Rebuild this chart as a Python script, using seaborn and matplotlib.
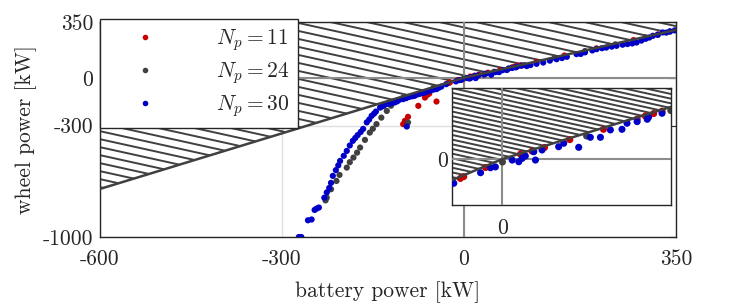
import numpy as np
import pandas as pd
import matplotlib
matplotlib.use('Agg')
import matplotlib.pyplot as plt
from matplotlib.patches import Polygon
import seaborn as sns

# --- data ---
# feasibility limit (wheel power vs battery power)
bound_x = [-600, 0, 350]
bound_y = [-698, 0, 301]

red_x = [-100, -97, -92, -75, -64, -60, -57, -45, -23, -25, -10, 10.7, 17.6, 25, 40, 60,
         80, 84.9, 89.8, 94.8, 120, 166, 219, 280, 320]
red_y = [-291, -270, -245, -176, -124, -107, -99, -149, -29, -32, -14, 8, 13, 19, 32, 49,
         66, 71, 75, 79, 100, 140, 185, 237, 272]

gray_x = [-228, -226, -219, -210, -205, -193, -188, -182, -176, -171, -163, -155, -150,
          -144, -136, -127, -120, -92, -100, -50, 0, 50, 100, 150, 200, 250, 300, 340]
gray_y = [-770, -753, -700, -648, -610, -564, -530, -501, -470, -438, -390, -344, -320,
          -291, -250, -208, -175, -281, -125, -62, -5, 38, 80, 125, 168, 210, 254, 290]

blue_x = [-272, -268, -257, -251, -246, -243, -239, -230, -226, -222, -219, -216, -211,
          -207, -204, -198, -193, -188, -183, -179, -175, -170, -166, -160, -156, -152,
          -148, -145, -138, -135, -132, -127, -94,
          -124, -120, -114, -110, -107, -100, -95, -90, -85, -81, -76, -72, -68, -64, -60,
          -55, -50, -45, -41, -37,
          -28.9, -13, -7.1, -4.2, 5.8, 9.7, 11.7, 13.6, 19.6, 18.6, 23.5, 33.4, 36.4,
          45.3, 52.2, 58.2, 64.1, 71, 74, 80, 86, 86.8, 94.8,
          104, 110, 120, 131, 142, 153, 162, 170, 186, 193, 200, 212, 219, 228, 235, 244,
          252, 262, 270, 278, 285, 293, 300, 306, 312, 320, 328, 334, 340, 348]
blue_y = [-1000, -1000, -895, -890, -830, -822, -815, -753, -720, -692, -660, -616, -580,
          -550, -522, -490, -459, -425, -396, -378, -360, -340, -321, -280, -262, -239,
          -225, -212, -187, -180, -175, -164, -306,
          -162, -160, -155, -148, -140, -134, -128, -120, -116, -113, -104, -100, -95, -92, -86,
          -80, -74, -71, -62, -55,
          -40, -22.6, -14.4, -13, -1.7, -4.5, 1.1, 5, -1.7, 12, 14.9, 20.3, 26,
          19.3, 35.8, 35.8, 48, 49, 59, 61.7, 65.6, 69, 75.5,
          74, 80, 88, 96, 108, 117, 124, 132, 149, 150, 160, 172, 180, 186, 190, 196,
          201, 208, 212, 216, 222, 234, 245, 253, 264, 270, 285, 284, 292, 298]

labels = [r'$N_p = 11$', r'$N_p = 24$', r'$N_p = 30$']
colors = ['#c80000', '#404040', '#0000c8']

xticks = [-600, -300, 0, 350]
yticks = [-1000, -300, 0, 350]

df = pd.DataFrame({
    'batt': red_x + gray_x + blue_x,
    'wheel': red_y + gray_y + blue_y,
    'series': [labels[0]] * len(red_x) + [labels[1]] * len(gray_x) + [labels[2]] * len(blue_x),
})

sns.set_style('white')
plt.rcParams['font.family'] = 'serif'
plt.rcParams['font.serif'] = ['cmr10', 'DejaVu Serif']
plt.rcParams['mathtext.fontset'] = 'cm'
plt.rcParams['axes.formatter.use_mathtext'] = True

dark = '#404040'
fig = plt.figure(figsize=(7.47, 3.07), dpi=100)
ax = fig.add_axes([0.1339, 0.228, 0.771, 0.700])
ax_in = fig.add_axes([0.605, 0.332, 0.293, 0.381])


def hatch_region(a, ylim, spacing, slope):
    # infeasible region above the limit line, hatched with clipped lines
    poly = Polygon(list(zip(bound_x, bound_y)) + [(bound_x[-1], ylim[1] + 50), (bound_x[0], ylim[1] + 50)],
                   closed=True, facecolor='none', edgecolor='none', transform=a.transData)
    a.add_patch(poly)
    for c in np.arange(-2, 3, spacing):
        ln, = a.plot([0, 1], [c, c + slope], transform=a.transAxes, color=dark, lw=1.4, zorder=2)
        ln.set_clip_path(poly)


def draw(a, xlim, ylim, spacing, slope, size):
    a.axhline(0, color='#8c8c8c', lw=1.5, zorder=3)
    a.axvline(0, color='#8c8c8c', lw=1.5, zorder=3)
    hatch_region(a, ylim, spacing, slope)
    sns.scatterplot(data=df, x='batt', y='wheel', hue='series', hue_order=labels,
                    palette=colors, s=size, linewidth=0, ax=a, zorder=4, legend=(a is ax))
    sns.lineplot(x=bound_x, y=bound_y, color=dark, lw=1.8, ax=a, zorder=5)
    a.set_xlim(xlim)
    a.set_ylim(ylim)
    for sp in a.spines.values():
        sp.set_color('#262626')
        sp.set_linewidth(1.0)


draw(ax, (-600, 350), (-1000, 350), 0.0372, -0.59, 20)
ax.grid(True, color='#e0e0e0', lw=1)
ax.set_axisbelow(True)
ax.set_xticks(xticks, [str(t) for t in xticks])
ax.set_yticks(yticks, [str(t) for t in yticks])
ax.tick_params(direction='in', length=5, width=0.8, top=True, right=True,
               labelsize=15.5, colors='#262626')
ax.tick_params(axis='x', pad=9)
ax.tick_params(axis='y', pad=5)
ax.set_xlabel('battery power [kW]', fontsize=15.5, labelpad=9)
ax.set_ylabel('wheel power [kW]', fontsize=15.5, labelpad=4)

handles, lbls = ax.get_legend_handles_labels()
leg = ax.legend(handles, lbls, loc='upper left', bbox_to_anchor=(0, 1.015), borderaxespad=0,
                fontsize=15.5, frameon=True, fancybox=False, edgecolor='#262626',
                facecolor='white', framealpha=1,
                handlelength=3.4, handletextpad=1.6, labelspacing=0.33, borderpad=0.4,
                markerscale=0.9)
leg.get_frame().set_linewidth(1.0)
leg.set_zorder(10)

draw(ax_in, (-30, 100), (-76, 117), 0.04, -0.41, 26)
ax_in.set_facecolor('white')
ax_in.set_xticks([0], ['0'])
ax_in.set_yticks([0], ['0'])
ax_in.tick_params(length=0, labelsize=15.5, colors='#262626', pad=3)
ax_in.xaxis.set_tick_params(pad=10)
ax_in.set_xlabel('')
ax_in.set_ylabel('')

fig.savefig('out.png', dpi=100)
